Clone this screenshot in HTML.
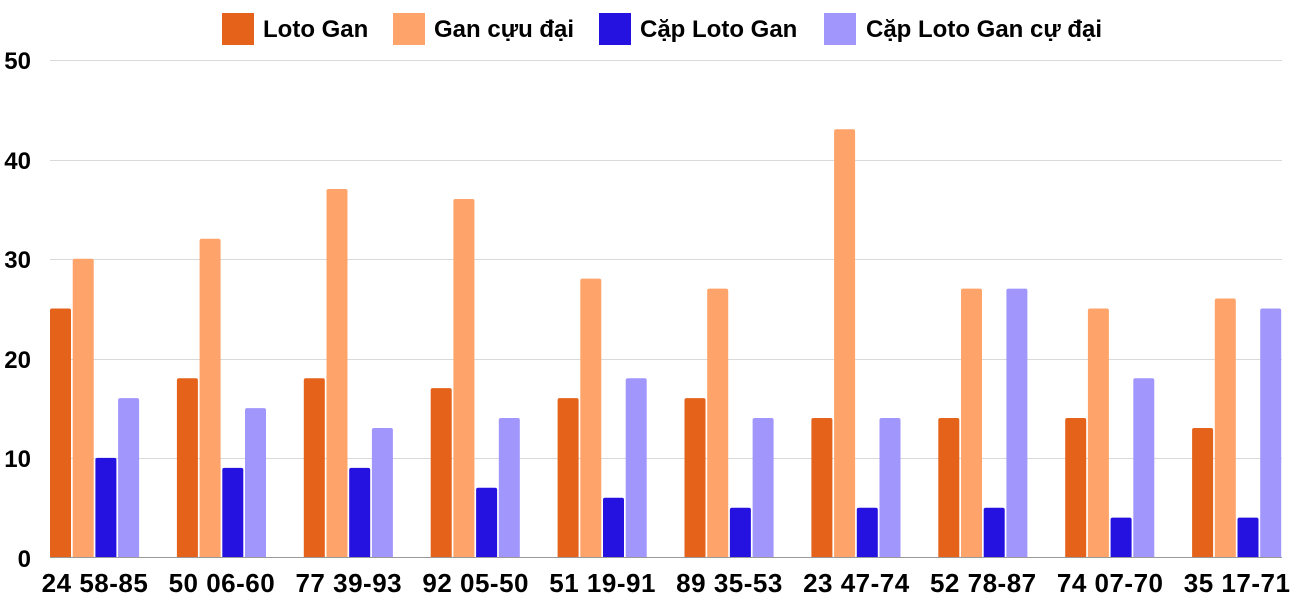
<!DOCTYPE html>
<html><head><meta charset="utf-8"><style>
body{margin:0;background:#fff;}
svg text{font-family:"Liberation Sans",sans-serif;font-weight:bold;fill:#000;}
</style></head><body>
<svg width="1300" height="600" xmlns="http://www.w3.org/2000/svg">
<g stroke="#d9d9d9" stroke-width="1">
<line x1="50" x2="1282" y1="60.5" y2="60.5"/>
<line x1="50" x2="1282" y1="160.5" y2="160.5"/>
<line x1="50" x2="1282" y1="259.5" y2="259.5"/>
<line x1="50" x2="1282" y1="359.5" y2="359.5"/>
<line x1="50" x2="1282" y1="458.5" y2="458.5"/>
</g>
<g font-size="24" text-anchor="end">
<text x="31" y="69">50</text><text x="31" y="169">40</text><text x="31" y="268">30</text>
<text x="31" y="368">20</text><text x="31" y="467">10</text><text x="31" y="567">0</text>
</g>
<g id="bars"></g>
<line x1="50" x2="1282" y1="557.5" y2="557.5" stroke="#999"/>
<g id="labels" font-size="26" text-anchor="middle"></g>
<g font-size="24">
<rect x="222" y="13" width="32" height="32" fill="#e4621a"/><text x="263" y="37">Loto Gan</text>
<rect x="393" y="13" width="32" height="32" fill="#fea46a"/><text x="434" y="37">Gan cựu đại</text>
<rect x="599" y="13" width="32" height="32" fill="#2612e0"/><text x="640" y="37">Cặp Loto Gan</text>
<rect x="824" y="13" width="32" height="32" fill="#a196fc"/><text x="866" y="37">Cặp Loto Gan cự đại</text>
</g>
</svg>
<script>
const d=[["24 58-85",25,30,10,16],["50 06-60",18,32,9,15],["77 39-93",18,37,9,13],["92 05-50",17,36,7,14],["51 19-91",16,28,6,18],["89 35-53",16,27,5,14],["23 47-74",14,43,5,14],["52 78-87",14,27,5,27],["74 07-70",14,25,4,18],["35 17-71",13,26,4,25]];
const cols=["#e4621a","#fea46a","#2612e0","#a196fc"];
const ns="http://www.w3.org/2000/svg";
const g=document.getElementById("bars"),lg=document.getElementById("labels");
d.forEach((r,i)=>{
 const x0=50+i*126.9;
 for(let k=0;k<4;k++){
  const h=r[k+1]*9.96;
  const p=document.createElementNS(ns,"path");
  const x=x0+k*22.7,w=21,y=557.5-h;
  p.setAttribute("d",`M${x} 557.5 V${y+2} Q${x} ${y} ${x+2} ${y} H${x+w-2} Q${x+w} ${y} ${x+w} ${y+2} V557.5Z`);
  p.setAttribute("fill",cols[k]);g.appendChild(p);
 }
 const t=document.createElementNS(ns,"text");
 t.setAttribute("x",x0+45);t.setAttribute("y",592);t.setAttribute("letter-spacing","0.5");t.textContent=r[0];lg.appendChild(t);
});
</script>
</body></html>
